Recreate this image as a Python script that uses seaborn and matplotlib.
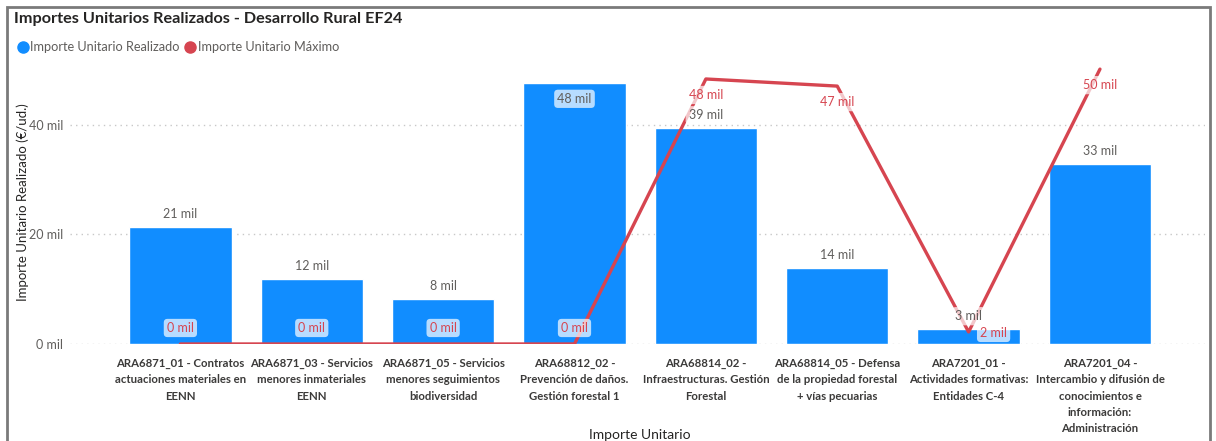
import matplotlib
matplotlib.use("Agg")
import matplotlib.pyplot as plt
import seaborn as sns
import numpy as np
import pandas as pd
from matplotlib.lines import Line2D
from matplotlib.patches import Rectangle

# data
categorias = [
    "ARA6871_01 - Contratos\nactuaciones materiales en\nEENN",
    "ARA6871_03 - Servicios\nmenores inmateriales\nEENN",
    "ARA6871_05 - Servicios\nmenores seguimientos\nbiodiversidad",
    "ARA68812_02 -\nPrevención de daños.\nGestión forestal 1",
    "ARA68814_02 -\nInfraestructuras. Gestión\nForestal",
    "ARA68814_05 - Defensa\nde la propiedad forestal\n+ vías pecuarias",
    "ARA7201_01 -\nActividades formativas:\nEntidades C-4",
    "ARA7201_04 -\nIntercambio y difusión de\nconocimientos e\ninformación:\nAdministración",
]
realizado = [21400, 11900, 8200, 47700, 39400, 13900, 2700, 32900]
maximo = [0, 0, 0, 0, 48400, 47100, 2200, 50200]

AZUL = "#118DFF"
ROJO = "#D64550"
GRIS = "#605E5C"

sns.set_style("white")
plt.rcParams["font.family"] = ["Lato", "DejaVu Sans"]

df = pd.DataFrame({"cat": categorias, "realizado": realizado, "maximo": maximo})
df["pos"] = np.arange(len(df))

fig = plt.figure(figsize=(12.16, 4.41), dpi=100)
ax = fig.add_axes([0.0576, 0.22, 0.9334, 0.6456])

sns.barplot(data=df, x="cat", y="realizado", color=AZUL, width=0.78,
            saturation=1, ax=ax, zorder=2)
sns.lineplot(data=df, x="pos", y="maximo", color=ROJO, linewidth=2.4,
             ax=ax, zorder=3)

ax.set_xlim(-0.84, 7.8)
ax.set_ylim(0, 52000)
ax.set_yticks([0, 20000, 40000])
ax.set_yticklabels(["0 mil", "20 mil", "40 mil"], color=GRIS, fontsize=9)
ax.set_xticks(df["pos"])
ax.set_xticklabels(categorias, fontsize=8.2, fontweight="bold",
                   color="#3b3a39", linespacing=1.6)
ax.yaxis.grid(True, linestyle=(0, (1, 3)), color="#c8c8c8", linewidth=1)
ax.tick_params(axis="x", length=0, pad=10)
ax.tick_params(axis="y", length=0, pad=5)
for s in ax.spines.values():
    s.set_visible(False)

ax.set_xlabel("Importe Unitario", fontsize=10, color="#252423")
ax.set_ylabel("Importe Unitario Realizado (€/ud.)", fontsize=9.5,
              color="#252423")
ax.xaxis.set_label_coords(0.502, -0.298)
ax.yaxis.set_label_coords(-0.036, 0.5)

caja = dict(boxstyle="round,pad=0.25,rounding_size=0.3", fc="white",
            ec="none", alpha=0.7)


def etiqueta(x, y, txt, dx, dy, color):
    ax.annotate(txt, (x, y), xytext=(dx, dy), textcoords="offset pixels",
                ha="center", va="center", fontsize=9, color=color,
                bbox=caja, zorder=5)


# bar labels
for i, v in enumerate(realizado):
    if v > 45000:
        etiqueta(i, v, f"{v / 1000:.0f} mil", 0, -16, GRIS)
    else:
        etiqueta(i, v, f"{v / 1000:.0f} mil", 0, 13, GRIS)

# line labels
for i, v in enumerate(maximo):
    txt = f"{v / 1000:.0f} mil"
    if v < 1000:
        etiqueta(i, v, txt, 0, 16, ROJO)
    elif v < 5000:
        etiqueta(i, v, txt, 25, -1, ROJO)
    else:
        etiqueta(i, v, txt, 0, -16, ROJO)

fig.text(0.0115, 0.958, "Importes Unitarios Realizados - Desarrollo Rural EF24",
         fontsize=11.7, fontweight="bold", color="#252423", va="center")

handles = [
    Line2D([], [], marker="o", linestyle="none", color=AZUL, markersize=8),
    Line2D([], [], marker="o", linestyle="none", color=ROJO, markersize=8),
]
fig.legend(handles, ["Importe Unitario Realizado", "Importe Unitario Máximo"],
           loc="center left", bbox_to_anchor=(0.006, 0.893), ncol=2,
           frameon=False, fontsize=9.2, handletextpad=0.3,
           columnspacing=0.5, handlelength=0.6, labelcolor=GRIS)

fig.patches.append(Rectangle((0.0058, -0.05), 0.989, 1.034, fill=False,
                             edgecolor="#7a7a7a", linewidth=2,
                             transform=fig.transFigure, figure=fig))

fig.savefig("out.png", dpi=100)
